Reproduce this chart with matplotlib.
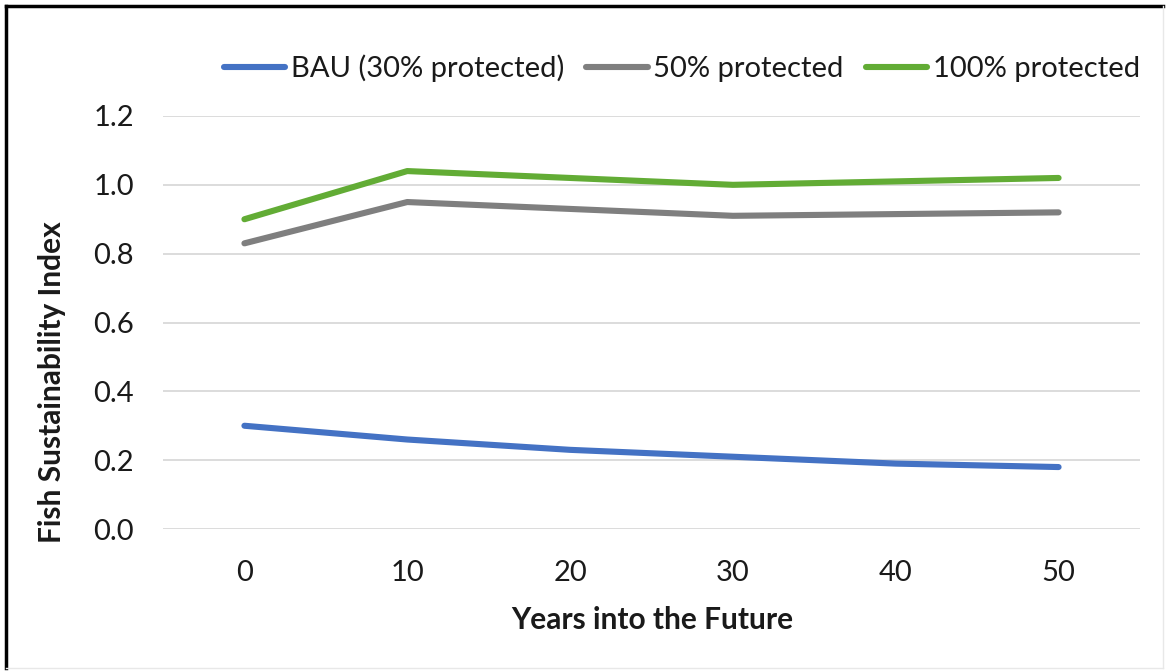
import matplotlib
matplotlib.use("Agg")
import matplotlib.pyplot as plt
from matplotlib.lines import Line2D

years = ["0", "10", "20", "30", "40", "50"]
bau = [0.30, 0.26, 0.23, 0.21, 0.19, 0.18]
p50 = [0.83, 0.95, 0.93, 0.91, 0.915, 0.92]
p100 = [0.90, 1.04, 1.02, 1.00, 1.01, 1.02]
series_names = ["BAU (30% protected)", "50% protected", "100% protected"]
yticks = [0.0, 0.2, 0.4, 0.6, 0.8, 1.0, 1.2]

colors = ["#4472C4", "#7F7F7F", "#62AC35"]

plt.rcParams['font.family'] = ['Lato', 'DejaVu Sans']

W, H = 1168, 672
fig = plt.figure(figsize=(W / 100, H / 100), dpi=100)
ax = fig.add_axes([163 / W, 1 - 529 / H, (1140 - 163) / W, (529 - 116) / H])

x = list(range(len(years)))
for vals, name, c in zip([bau, p50, p100], series_names, colors):
    ax.plot(x, vals, color=c, lw=4.4, label=name, solid_capstyle='round',
            solid_joinstyle='round')

ax.set_xlim(-0.5, len(years) - 0.5)
ax.set_ylim(0, 1.2)
ax.set_xticks(x)
ax.set_xticklabels(years)
ax.set_yticks(yticks)
ax.set_yticklabels([f"{v:.1f}" for v in yticks])
ax.grid(axis='y', color='#D9D9D9', lw=1.3)
ax.set_axisbelow(True)
for s in ax.spines.values():
    s.set_visible(False)
ax.tick_params(axis='both', length=0, labelsize=21, colors='#1a1a1a')
ax.tick_params(axis='x', pad=22)
ax.tick_params(axis='y', pad=21)

fig.text(652 / W, 1 - 620 / H, "Years into the Future", ha='center', va='center',
         fontsize=21.5, fontweight='bold', color='#1a1a1a')
fig.text(52 / W, 1 - 382 / H, "Fish Sustainability Index", ha='center', va='center',
         rotation=90, fontsize=21.5, fontweight='bold', color='#1a1a1a')

handles, labels = ax.get_legend_handles_labels()
fig.legend(handles, labels, loc='center', bbox_to_anchor=(682 / W, 1 - 68 / H),
           ncol=3, frameon=False, fontsize=21, handlelength=2.1, handletextpad=0.2,
           columnspacing=0.75, labelcolor='#1a1a1a')

# figure border (left/top dark, right/bottom faint)
fig.add_artist(Line2D([6 / W, 6 / W], [1 - 668 / H, 1 - 6 / H], transform=fig.transFigure,
                      color='black', lw=2.5))
fig.add_artist(Line2D([6 / W, 1163 / W], [1 - 6 / H, 1 - 6 / H], transform=fig.transFigure,
                      color='black', lw=2.5))
fig.add_artist(Line2D([1163 / W, 1163 / W], [1 - 668 / H, 1 - 6 / H], transform=fig.transFigure,
                      color='#E8E8E8', lw=1.0))
fig.add_artist(Line2D([6 / W, 1163 / W], [1 - 668 / H, 1 - 668 / H], transform=fig.transFigure,
                      color='#E8E8E8', lw=1.0))

fig.savefig("out.png", dpi=100, facecolor='white')
